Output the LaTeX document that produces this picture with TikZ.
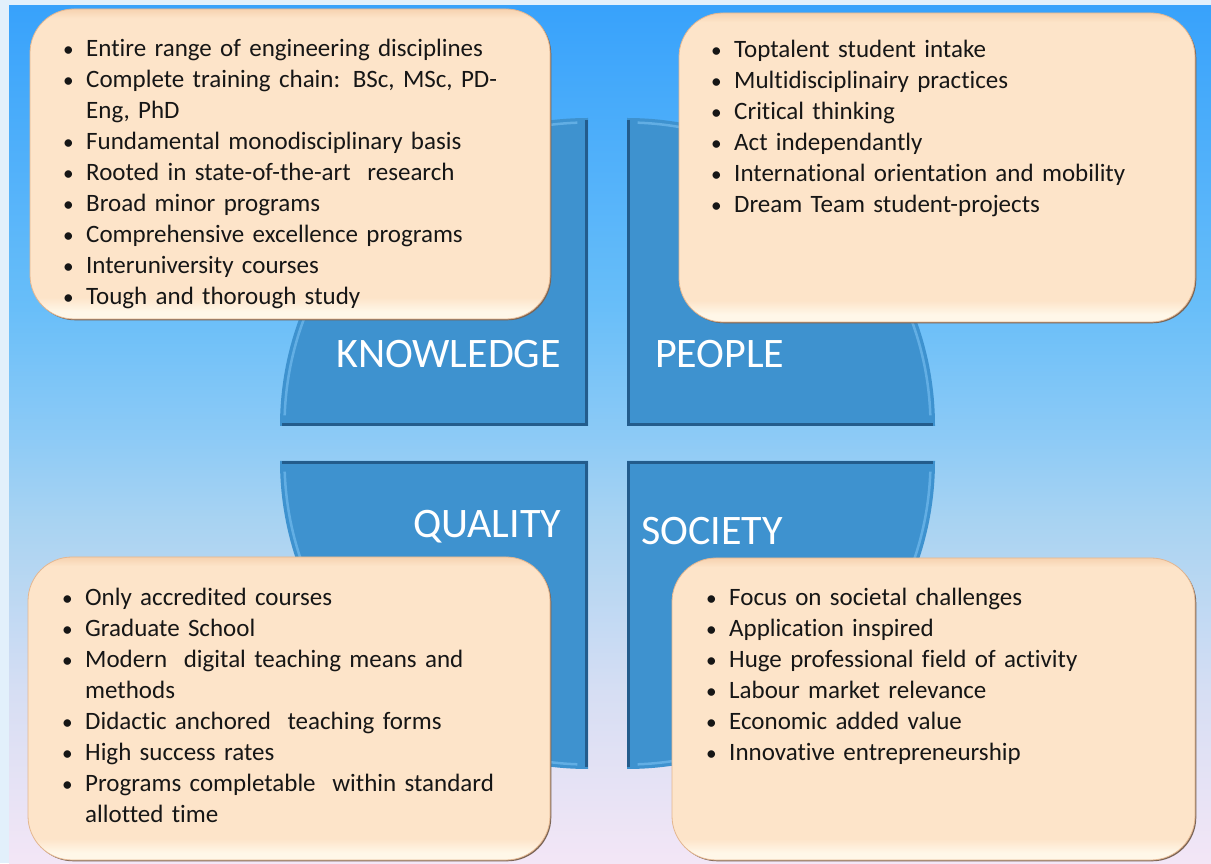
\documentclass[tikz,border=0pt]{standalone}
\usepackage{fontspec}
\setmainfont{Carlito}[Ligatures=NoCommon]
\usetikzlibrary{shadows}
\definecolor{frameC}{HTML}{E2F0FB}
\definecolor{bgA}{HTML}{F3E6F6}
\definecolor{bgB}{HTML}{D6DEF3}
\definecolor{bgC}{HTML}{A8D3F2}
\definecolor{bgD}{HTML}{8CCAF6}
\definecolor{bgE}{HTML}{68BEF9}
\definecolor{bgF}{HTML}{38A2FB}
\definecolor{quadC}{HTML}{3E92CF}
\definecolor{quadD}{HTML}{235C8C}
\definecolor{quadL}{HTML}{6CB6EA}
\definecolor{peachA}{HTML}{FFF7E8}
\definecolor{peachB}{HTML}{FDE4C9}
\definecolor{peachC}{HTML}{F6D2B0}
\definecolor{boxEdge}{HTML}{E3B690}
\definecolor{boxShadow}{HTML}{7A6455}
\definecolor{txtC}{HTML}{161616}
\pgfdeclareverticalshading{bgsh}{100bp}{color(0bp)=(bgA); color(25bp)=(bgA); color(35bp)=(bgB); color(45bp)=(bgC); color(50bp)=(bgD); color(57.5bp)=(bgE); color(75bp)=(bgF); color(100bp)=(bgF)}
\pgfdeclareverticalshading{boxsh}{100bp}{color(0bp)=(peachA); color(25bp)=(peachA); color(26.2bp)=(peachA); color(28.5bp)=(peachB); color(73.5bp)=(peachB); color(75bp)=(peachC); color(100bp)=(peachC)}
\newcommand\myb{\makebox[24pt][l]{\hspace{1pt}\scalebox{0.85}{\textbullet}}}
\newcommand\myi{\hspace*{24pt}}
\tikzset{
  box/.style={rounded corners=44pt, shading=boxsh, draw=boxEdge, line width=0.8pt,
    inner sep=0pt, outer sep=0pt,
    drop shadow={shadow xshift=1.3pt, shadow yshift=-1.3pt, fill=boxShadow, opacity=1}},
  txt/.style={text width=480pt, align=left, font=\fontsize{25}{31}\selectfont,
    inner sep=0pt, text=txtC, anchor=base west},
  lab/.style={font=\fontsize{42}{50}\selectfont, text=white, inner sep=0pt, anchor=base west},
  quaddark/.style={draw=quadD, line width=3pt},
  quadlight/.style={draw=quadL, line width=2.5pt, opacity=0.8}
}
\begin{document}
\begin{tikzpicture}[x=1pt,y=1pt]
\useasboundingbox (0,0) rectangle (1211,863);
\fill[frameC] (0,0) rectangle (1211,863);
\shade[shading=bgsh] (9,0) rectangle (1211,857);
% quadrants
\fill[quadC] (588,437) -- (280,437) arc[start angle=180,end angle=90,radius=308] -- cycle;
\draw[quaddark] (282,438.5) -- (586.5,438.5) -- (586.5,743);
\draw[quadlight] ([shift={(178:303.5)}]588,437) arc[start angle=178,end angle=92,radius=303.5];
\fill[quadC] (627,437) -- (627,745) arc[start angle=90,end angle=0,radius=308] -- cycle;
\draw[quaddark] (628.5,743) -- (628.5,438.5) -- (933,438.5);
\draw[quadlight] ([shift={(88:303.5)}]627,437) arc[start angle=88,end angle=2,radius=303.5];
\fill[quadC] (588,402) -- (280,402) arc[start angle=180,end angle=270,radius=308] -- cycle;
\draw[quaddark] (282,400.5) -- (586.5,400.5) -- (586.5,96);
\draw[quadlight] ([shift={(182:303.5)}]588,402) arc[start angle=182,end angle=268,radius=303.5];
\fill[quadC] (627,402) -- (935,402) arc[start angle=0,end angle=-90,radius=308] -- cycle;
\draw[quaddark] (628.5,96) -- (628.5,400.5) -- (933,400.5);
\draw[quadlight] ([shift={(-2:303.5)}]627,402) arc[start angle=-2,end angle=-88,radius=303.5];
% labels
\node[lab] (know) at (336,495) {KNOWLEDGE};
\node[lab] (people) at (655,495) {PEOPLE};
\node[lab] (quality) at (413,325) {QUALITY};
\node[lab] (society) at (641,318) {SOCIETY};
% boxes
\node[box, minimum width=520pt, minimum height=310pt] (tlbox) at (290,699) {};
\node[box, minimum width=516pt, minimum height=309pt] (trbox) at (937,695.5) {};
\node[box, minimum width=522pt, minimum height=303pt] (blbox) at (289,154.5) {};
\node[box, minimum width=523pt, minimum height=302pt] (brbox) at (933.5,154) {};
% texts
\node[txt] (tltext) at (62,806.5) {\myb Entire range of engineering disciplines\\
\myb Complete training chain: BSc, MSc, PD-\\
\myi Eng, PhD\\
\myb Fundamental monodisciplinary basis\\
\myb Rooted in state-of-the-art\ \ research\\
\myb Broad minor programs\\
\myb Comprehensive excellence programs\\
\myb Interuniversity courses\\
\myb Tough and thorough study};
\node[txt] (trtext) at (710,805) {\myb Toptalent student intake\\
\myb Multidisciplinairy practices\\
\myb Critical thinking\\
\myb Act independantly\\
\myb International orientation and mobility\\
\myb Dream Team student-projects};
\node[txt] (bltext) at (61,257) {\myb Only accredited courses\\
\myb Graduate School\\
\myb Modern\ \ digital teaching means and\\
\myi methods\\
\myb Didactic anchored\ \ teaching forms\\
\myb High success rates\\
\myb Programs completable\ \ within standard\\
\myi allotted time};
\node[txt] (brtext) at (705,257) {\myb Focus on societal challenges\\
\myb Application inspired\\
\myb Huge professional field of activity\\
\myb Labour market relevance\\
\myb Economic added value\\
\myb Innovative entrepreneurship};
\end{tikzpicture}
\end{document}
